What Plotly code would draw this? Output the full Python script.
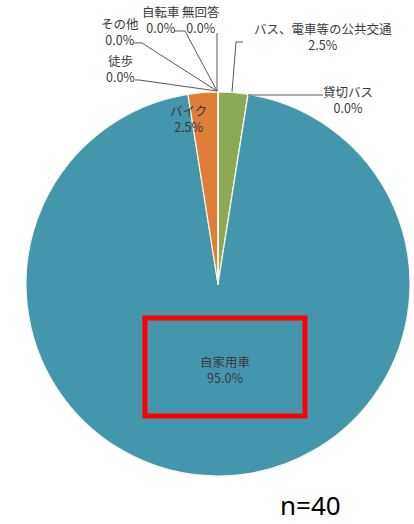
import plotly.graph_objects as go

W, H = 414, 524

labels = ["バス、電車等の公共交通", "貸切バス", "自家用車", "バイク", "徒歩", "その他", "自転車", "無回答"]
values = [2.5, 0.0, 95.0, 2.5, 0.0, 0.0, 0.0, 0.0]
colors = ["#8CAA55", "#5B9BD5", "#4496AC", "#E07D38", "#A5A5A5", "#FFC000", "#264478", "#9E480E"]
sample_note = "n=40"

def px(x):
    return x / W

def py(y):
    return 1 - y / H

fig = go.Figure()
fig.add_trace(go.Pie(
    labels=labels, values=values, sort=False, direction="clockwise", rotation=0,
    marker=dict(colors=colors, line=dict(color="#F4F4E8", width=1.2)),
    textinfo="none", hoverinfo="label+percent", showlegend=False,
    domain=dict(x=[px(26), px(410)], y=[py(476), py(92)]),
))

font = dict(family="Noto Sans CJK JP", size=12.5, color="#3A3A3A")

def pct(v):
    return f"{v:.1f}%"

# label positions (pixel centers)
label_pos = {
    "バス、電車等の公共交通": (323, 36),
    "貸切バス": (348, 100),
    "自家用車": (225, 369),
    "バイク": (188, 119),
    "徒歩": (120, 69),
    "その他": (120, 31),
    "自転車": (161, 20),
    "無回答": (201, 20),
}
for lab, val in zip(labels, values):
    x, y = label_pos[lab]
    txt = f"{lab}<br>{pct(val)}"
    fig.add_annotation(x=px(x), y=py(y), xref="paper", yref="paper", text=txt,
                       showarrow=False, font=font, align="center",
                       xanchor="center", yanchor="middle")

# leader lines (pixel coords)
leaders = [
    [(135, 80), (139, 80), (217, 91)],
    [(134, 43), (142, 43), (217, 91)],
    [(174, 31), (185, 31), (217, 91)],
    [(217, 33), (217, 91)],
    [(243, 42), (236, 42), (232, 92)],
    [(323, 95), (248, 95)],
]
for pts in leaders:
    path = "M " + " L ".join(f"{px(a)},{py(b)}" for a, b in pts)
    fig.add_shape(type="path", path=path, xref="paper", yref="paper",
                  line=dict(color="#595959", width=1))

# highlight box
fig.add_shape(type="rect", xref="paper", yref="paper",
              x0=px(145), x1=px(305), y0=py(416), y1=py(318),
              line=dict(color="#FF0000", width=5))

fig.add_annotation(x=px(310), y=py(505), xref="paper", yref="paper", text=sample_note,
                   showarrow=False, font=dict(family="Noto Sans", size=26, color="#000000"),
                   xanchor="center", yanchor="middle")

fig.update_layout(width=W, height=H, margin=dict(l=0, r=0, t=0, b=0),
                  paper_bgcolor="white", plot_bgcolor="white")
fig.write_html("out.html", config={"displayModeBar": False},
               post_script="document.body.style.margin='0';document.body.style.padding='0';")
